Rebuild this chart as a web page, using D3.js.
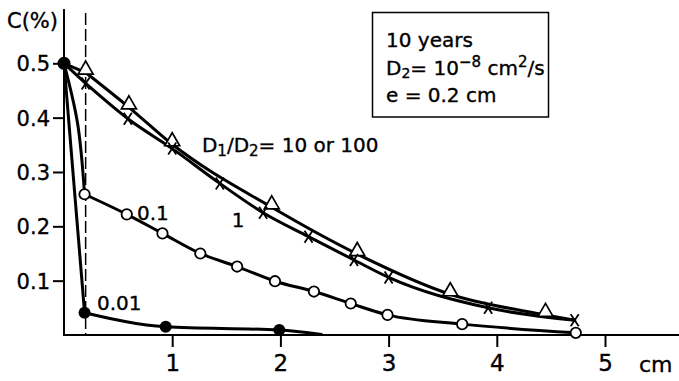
<!DOCTYPE html>
<html>
<head>
<meta charset="utf-8">
<script src="https://cdn.jsdelivr.net/npm/d3@7"></script>
<style>
  body { margin: 0; background: #fff; }
  text { font-family: "DejaVu Sans", sans-serif; fill: #000; stroke: #000; stroke-width: 0.35px; }
</style>
</head>
<body>
<div id="chart"></div>
<script>
// values: distance (cm) -> C (%)
// mark = 1 where the curve carries a symbol

// D1/D2 = 10 or 100 (triangles)
var triX = [0, 0.2, 0.6, 1.0, 1.92, 2.71, 3.57, 4.45, 4.72];
var triY = [0.5, 0.483, 0.419, 0.351, 0.235, 0.149, 0.075, 0.037, 0.027];
var triMark = [0, 1, 1, 1, 1, 1, 1, 1, 0];

// D1/D2 = 1 (crosses)
var crossX = [0, 0.2, 0.59, 1.0, 1.44, 1.84, 2.26, 2.68, 3.0, 3.92, 4.72];
var crossY = [0.5, 0.463, 0.398, 0.343, 0.279, 0.225, 0.181, 0.138, 0.106, 0.05, 0.027];
var crossMark = [0, 1, 1, 1, 1, 1, 1, 1, 1, 1, 1];

// D1/D2 = 0.1 (open circles)
var circX = [0, 0.125, 0.19, 0.58, 0.91, 1.26, 1.6, 1.95, 2.31, 2.65, 2.99, 3.68, 4.73];
var circY = [0.5, 0.39, 0.259, 0.222, 0.187, 0.15, 0.126, 0.099, 0.08, 0.058, 0.037, 0.02, 0.004];
var circMark = [0, 0, 1, 1, 1, 1, 1, 1, 1, 1, 1, 1, 1];

// D1/D2 = 0.01 (filled dots)
var dotX = [0, 0.19, 0.94, 1.99, 2.38];
var dotY = [0.5, 0.041, 0.015, 0.009, 0.001];
var dotMark = [0, 1, 1, 1, 0];

var yTicks = [0.1, 0.2, 0.3, 0.4, 0.5];
var xTicks = [1, 2, 3, 4, 5];
var eThick = 0.2; // dashed line, e = 0.2 cm

var W = 679, H = 381;

var svg = d3.select("#chart").append("svg")
  .attr("width", W)
  .attr("height", H)
  .style("background-color", "white");

var x = d3.scaleLinear().domain([0, 5]).range([64, 605]);
var y = d3.scaleLinear().domain([0, 0.5]).range([335, 63.3]);

//Axes
svg.append("line")
  .attr("x1", x(0)).attr("x2", x(0))
  .attr("y1", y(0.6)).attr("y2", y(0) + 1)
  .attr("stroke", "black").attr("stroke-width", 2);

svg.append("line")
  .attr("x1", x(0) - 1).attr("x2", W)
  .attr("y1", y(0)).attr("y2", y(0))
  .attr("stroke", "black").attr("stroke-width", 2);

var yAxis = svg.append("g")
  .attr("transform", "translate(" + x(0) + ",0)")
  .call(d3.axisLeft(y).tickValues(yTicks).tickSize(11).tickPadding(3)
    .tickFormat(d3.format(".1f")));
yAxis.select(".domain").remove();
yAxis.selectAll("line").attr("stroke-width", 2);
yAxis.selectAll("text")
  .style("font-family", "DejaVu Sans, sans-serif")
  .style("font-size", "21px")
  .attr("dy", "0.36em");

var xAxis = svg.append("g")
  .attr("transform", "translate(0," + y(0) + ")")
  .call(d3.axisBottom(x).tickValues(xTicks).tickSize(12).tickPadding(8)
    .tickFormat(d3.format("d")));
xAxis.select(".domain").remove();
xAxis.selectAll("line").attr("stroke-width", 2);
xAxis.selectAll("text")
  .style("font-family", "DejaVu Sans, sans-serif")
  .style("font-size", "23px");

svg.append("text")
  .attr("x", 639).attr("y", 372)
  .style("font-size", "22px")
  .text("cm");

svg.append("text")
  .attr("x", 7).attr("y", 28)
  .style("font-size", "21px")
  .text("C(%)");

//Dashed line at e
svg.append("line")
  .attr("x1", x(eThick)).attr("x2", x(eThick))
  .attr("y1", 13).attr("y2", y(0))
  .attr("stroke", "black").attr("stroke-width", 1.5)
  .attr("stroke-dasharray", "12,4");

//Curves
var toPts = (xs, ys, ms) => xs.map((v, i) => ({ x: v, y: ys[i], m: ms[i] }));

var series = [
  { key: "tri", pts: toPts(triX, triY, triMark) },
  { key: "cross", pts: toPts(crossX, crossY, crossMark) },
  { key: "circ", pts: toPts(circX, circY, circMark) },
  { key: "dot", pts: toPts(dotX, dotY, dotMark) },
];

var head = d3.line().x((d) => x(d.x)).y((d) => y(d.y)).curve(d3.curveCatmullRom.alpha(0.5));
var smooth = d3.line().x((d) => x(d.x)).y((d) => y(d.y)).curve(d3.curveMonotoneX);

series.forEach(function (s) {
  // the drop from the source up to the first symbol
  var first = s.pts.findIndex((d) => d.m == 1);
  svg.append("path")
    .attr("d", head(s.pts.slice(0, first + 1)))
    .attr("fill", "none").attr("stroke", "black")
    .attr("stroke-width", 3).attr("stroke-linejoin", "round");
  svg.append("path")
    .attr("d", smooth(s.pts.slice(first)))
    .attr("fill", "none").attr("stroke", "black")
    .attr("stroke-width", 3).attr("stroke-linecap", "round");
});

//Symbols
var marked = (s) => s.pts.filter((d) => d.m == 1);

svg.selectAll(".tri")
  .data(marked(series[0]))
  .enter().append("path")
  .attr("class", "tri")
  .attr("transform", (d) => "translate(" + x(d.x) + "," + (y(d.y) - 4) + ")")
  .attr("d", "M0,-7.5L7.5,5.5L-7.5,5.5Z")
  .attr("fill", "white").attr("stroke", "black").attr("stroke-width", 1.7);

svg.selectAll(".cross")
  .data(marked(series[1]))
  .enter().append("path")
  .attr("class", "cross")
  .attr("transform", (d) => "translate(" + x(d.x) + "," + y(d.y) + ")")
  .attr("d", "M-4,-6L4,6M4,-6L-4,6")
  .attr("fill", "none").attr("stroke", "black").attr("stroke-width", 1.8);

svg.selectAll(".circ")
  .data(marked(series[2]))
  .enter().append("circle")
  .attr("class", "circ")
  .attr("cx", (d) => x(d.x)).attr("cy", (d) => y(d.y))
  .attr("r", 5.2)
  .attr("fill", "white").attr("stroke", "black").attr("stroke-width", 1.8);

svg.selectAll(".dot")
  .data(marked(series[3]))
  .enter().append("circle")
  .attr("class", "dot")
  .attr("cx", (d) => x(d.x)).attr("cy", (d) => y(d.y))
  .attr("r", 6)
  .attr("fill", "black");

// common source point
svg.append("circle")
  .attr("cx", x(0)).attr("cy", y(0.5))
  .attr("r", 6.5)
  .attr("fill", "black");

//Curve labels
var label = (xv, yv, parts, anchor) => {
  var t = svg.append("text")
    .attr("x", x(xv)).attr("y", y(yv))
    .attr("text-anchor", anchor || "start")
    .style("font-size", "20px");
  parts.forEach(function (p) {
    t.append("tspan")
      .attr("baseline-shift", p[1] || null)
      .style("font-size", p[2] || null)
      .text(p[0]);
  });
  return t;
};

label(1.275, 0.337, [["D"], ["1", "-4", "15px"], ["/D"], ["2", "-4", "15px"], ["= 10 or 100"]]);
label(1.61, 0.199, [["1"]], "middle");
label(0.675, 0.211, [["0.1"]]);
label(0.305, 0.046, [["0.01"]]);

//Info box
svg.append("rect")
  .attr("x", 372.5).attr("y", 12.5)
  .attr("width", 176).attr("height", 104.5)
  .attr("fill", "white").attr("stroke", "black").attr("stroke-width", 1.5);

var box = svg.append("g").attr("transform", "translate(386,0)");

box.append("text").attr("y", 47).style("font-size", "20px").text("10 years");

var l2 = box.append("text").attr("y", 75).style("font-size", "20px");
l2.append("tspan").text("D");
l2.append("tspan").attr("baseline-shift", "-3").style("font-size", "14px").text("2");
l2.append("tspan").text("= 10");
l2.append("tspan").attr("baseline-shift", "8").style("font-size", "15px").text("\u22128");
l2.append("tspan").text(" cm");
l2.append("tspan").attr("baseline-shift", "8").style("font-size", "15px").text("2");
l2.append("tspan").text("/s");

box.append("text").attr("y", 102).style("font-size", "20px").text("e = 0.2 cm");
</script>
</body>
</html>
